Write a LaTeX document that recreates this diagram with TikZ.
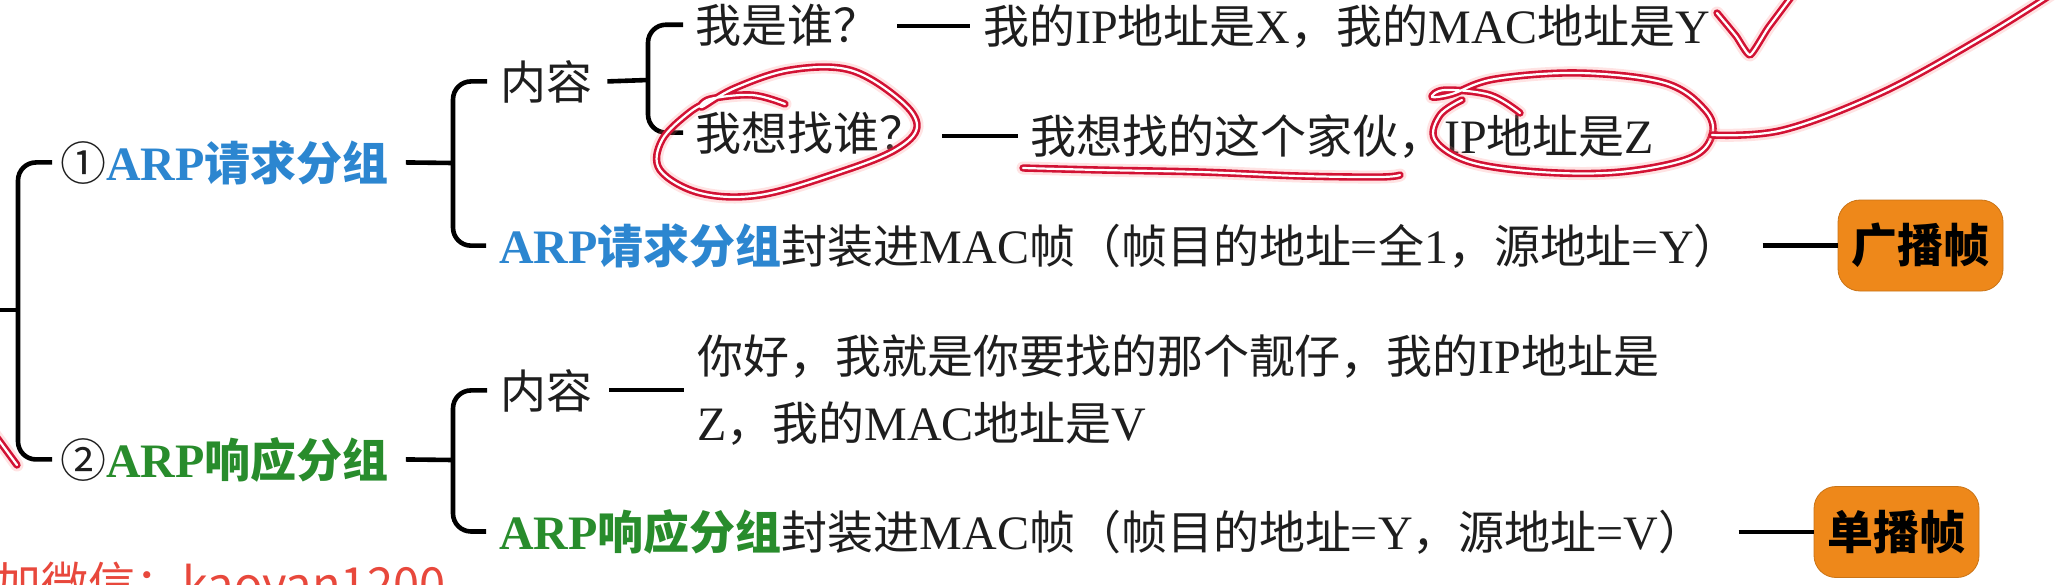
\documentclass[tikz,border=0pt]{standalone}
\usepackage{fontspec}
\setmainfont{Liberation Serif}
\newfontfamily\cjk{Noto Sans CJK SC}[Scale=0.958]
\newfontfamily\cjkmark{Noto Sans CJK SC}
\newcommand\zh[1]{{\cjk #1}}
\definecolor{arpblue}{RGB}{44,134,208}
\definecolor{arpgreen}{RGB}{40,140,44}
\definecolor{boxorange}{RGB}{238,136,26}
\definecolor{txt}{RGB}{30,30,30}
\definecolor{pen}{RGB}{210,18,52}
\definecolor{wm}{RGB}{232,72,60}
\tikzset{
  br/.style={draw=black, line width=4.6pt, rounded corners=18pt, line cap=butt},
  txtnode/.style={inner sep=0pt, anchor=base west, text=txt, font=\fontsize{48}{58}\selectfont},
  tag/.style={fill=boxorange, draw=boxorange!85!black, line width=0.8pt, rounded corners=22pt, minimum width=165pt, minimum height=91pt, inner sep=0pt, font=\fontsize{48}{58}\selectfont\cjk\bfseries, text=black},
  redmark/.style={draw=pen, line width=7.4pt, line cap=round, line join=round,
    preaction={draw=red!50, line width=13pt, opacity=0.22, line cap=round, line join=round},
    postaction={draw=white, line width=2.2pt, line cap=round, line join=round}}
}
\begin{document}
\begin{tikzpicture}[x=1pt,y=-1pt]
\fill[white] (0,0) rectangle (2060,584);
\clip (0,0) rectangle (2060,584);

% headings
\node[txtnode] (h1) at (60,180) {\zh{①}\textcolor{arpblue}{\textbf{ARP}\zh{\bfseries 请求分组}}};
\node[txtnode] (h2) at (60,477) {\zh{②}\textcolor{arpgreen}{\textbf{ARP}\zh{\bfseries 响应分组}}};

% request branch
\node[txtnode] (nr1) at (500,99) {\zh{内容}};
\node[txtnode] (q1) at (695,42) {\zh{我是谁？}};
\node[txtnode] (a1) at (983,43) {\zh{我的}IP\zh{地址是}X\zh{，我的}MAC\zh{地址是}Y};
\node[txtnode] (q2) at (695,150) {\zh{我想找谁？}};
\node[txtnode] (a2) at (1030,153) {\zh{我想找的这个家伙，}IP\zh{地址是}Z};
\node[txtnode] (e1) at (499,263) {\textcolor{arpblue}{\textbf{ARP}\zh{\bfseries 请求分组}}\zh{封装进}MAC\zh{帧（帧目的地址}=\zh{全}1\zh{，源地址}=Y\zh{）}};
\node[tag] (b1) at (1920.5,245.5) {广播帧};

% response branch
\node[txtnode] (nr2) at (500,408) {\zh{内容}};
\node[txtnode, anchor=west, align=left, font=\fontsize{48}{67}\selectfont] (r1) at (697,390)
  {\zh{你好，我就是你要找的那个靓仔，我的}IP\zh{地址是}\\Z\zh{，我的}MAC\zh{地址是}V};
\node[txtnode] (e2) at (499,549) {\textcolor{arpgreen}{\textbf{ARP}\zh{\bfseries 响应分组}}\zh{封装进}MAC\zh{帧（帧目的地址}=Y\zh{，源地址}=V\zh{）}};
\node[tag] (b2) at (1896.5,532) {单播帧};

% spine coordinates
\coordinate (lead) at (0,310);
\coordinate (s0) at (18,310);
\coordinate (s1) at (453,163);
\coordinate (s2) at (648,80);
\coordinate (s3) at (453,460);

% brackets
\draw[br] (lead) -- (s0);
\draw[br] ([xshift=-8pt]h1.west) -| (s0) |- ([xshift=-8pt]h2.west);
\draw[br] ([xshift=17pt]h1.east) -- (s1);
\draw[br] ([xshift=-13pt]nr1.west) -| (s1) |- ([xshift=-13pt]e1.west);
\draw[br] ([xshift=15pt]nr1.east) -- (s2);
\draw[br] ([xshift=-12pt]q1.west) -| (s2) |- ([xshift=-12pt]q2.west);
\draw[br] ([xshift=17pt]h2.east) -- (s3);
\draw[br] ([xshift=-13pt]nr2.west) -| (s3) |- ([xshift=-13pt]e2.west);

% dashes
\draw[br] ([xshift=-86pt]a1.west) -- ([xshift=-13pt]a1.west);
\draw[br] ([xshift=-88pt]a2.west) -- ([xshift=-12pt]a2.west);
\draw[br] ([xshift=-75pt]b1.west) -- (b1.west);
\draw[br] ([xshift=-88pt]r1.west) -- ([xshift=-13pt]r1.west);
\draw[br] ([xshift=-75pt]b2.west) -- (b2.west);

% red hand annotations
\draw[redmark] plot[smooth, tension=0.6] coordinates {(785,104) (752,95) (710,99) (702,107) (735,88) (790,70) (850,70) (900,100) (917,127) (895,150) (840,172) (760,195) (700,193) (660,170) (662,140) (690,112) (712,100)};
\draw[redmark] plot[smooth, tension=0.6] coordinates {(1023,168) (1100,170) (1200,172) (1300,176) (1380,177) (1400,175)};
\draw[redmark] plot[smooth, tension=0.6] coordinates {(1520,113) (1490,95) (1445,90) (1432,97) (1452,94) (1495,79) (1580,73) (1665,83) (1705,110) (1712,135) (1690,158) (1620,172) (1540,172) (1470,162) (1435,140) (1440,115) (1462,100)};
\draw[redmark] plot[smooth, tension=0.6] coordinates {(1712,135) (1783,130) (1883,92) (1983,37) (2055,-8)};
\draw[redmark] plot[smooth, tension=0.3] coordinates {(1717,13) (1736,36) (1750,55) (1768,28) (1795,-8)};
\draw[redmark] (-5,435) -- (17,465);

% watermark (cut off by the bottom edge, as in the reference)
\node[inner sep=0pt, anchor=base west, text=wm, font=\fontsize{47}{54}\selectfont\cjkmark] (wmk) at (-6,601) {加微信：kaoyan1200};
\end{tikzpicture}
\end{document}
